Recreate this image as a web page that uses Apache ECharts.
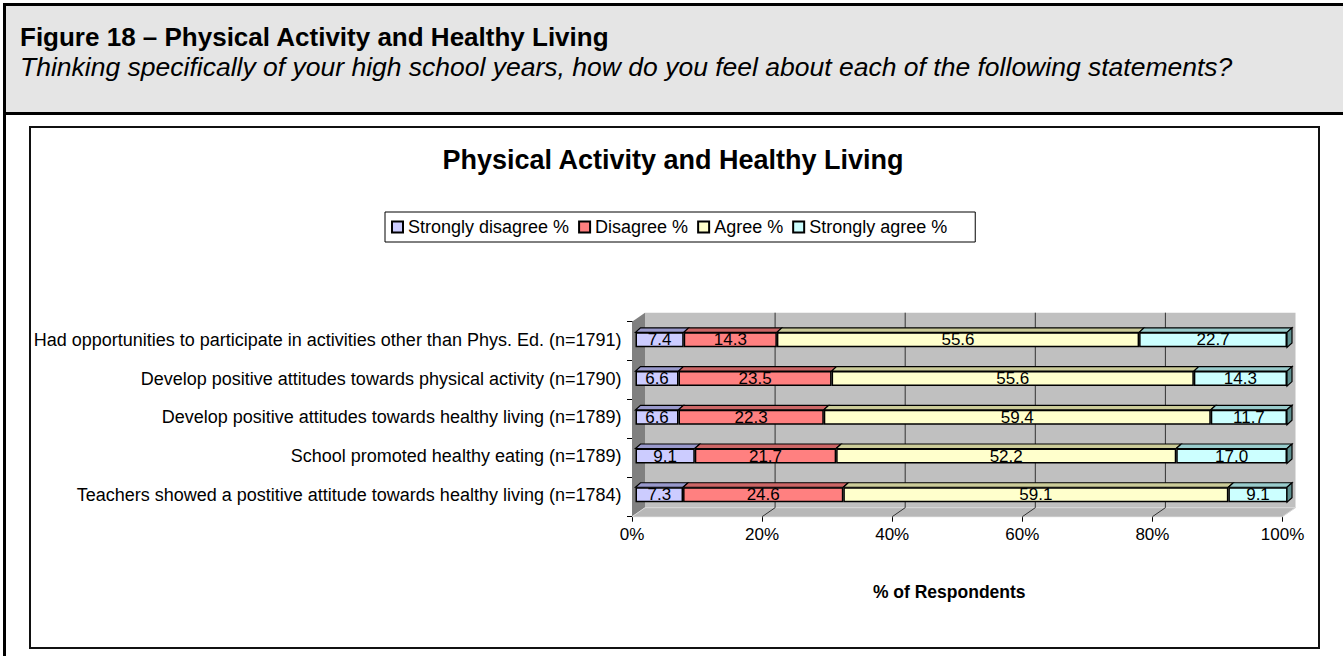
<!DOCTYPE html>
<html>
<head>
<meta charset="utf-8">
<title>Physical Activity and Healthy Living</title>
<script src="https://cdn.jsdelivr.net/npm/echarts@6/dist/echarts.min.js"></script>
<style>
  html, body { margin: 0; padding: 0; background: #fff; }
  body { width: 1343px; height: 656px; overflow: hidden; position: relative; font-family: "Liberation Sans", Arial, sans-serif; }
  #outer { position: absolute; left: 3px; top: 3px; width: 1400px; height: 700px; border-left: 3px solid #000; border-top: 3px solid #000; }
  #header { position: absolute; left: 6px; top: 6px; width: 1400px; height: 106px; background: #e5e5e5; border-bottom: 3px solid #000; }
  .htxt { position: absolute; left: 20px; color: #000; white-space: nowrap; line-height: normal; }
  #figTitle { top: 22px; font-size: 26px; font-weight: bold; }
  #figSub { top: 52px; font-size: 26.5px; font-style: italic; }
  #frame { position: absolute; left: 29px; top: 126px; width: 1287px; height: 519px; border: 2px solid #111; }
  #myChart { position: absolute; left: 0; top: 0; width: 1343px; height: 656px; }
</style>
</head>
<body>
<div id="outer"></div>
<div id="header"></div>
<div class="htxt" id="figTitle">Figure 18 – Physical Activity and Healthy Living</div>
<div class="htxt" id="figSub">Thinking specifically of your high school years, how do you feel about each of the following statements?</div>
<div id="frame"></div>
<div id="myChart"></div>

<script>
// 数据
const categories = [
  'Had opportunities to participate in activities other than Phys. Ed. (n=1791)',
  'Develop positive attitudes towards physical activity (n=1790)',
  'Develop positive attitudes towards healthy living (n=1789)',
  'School promoted healthy eating (n=1789)',
  'Teachers showed a postitive attitude towards healthy living (n=1784)'
]
const seriesNames = ['Strongly disagree %', 'Disagree %', 'Agree %', 'Strongly agree %']
const stronglyDisagree = [7.4, 6.6, 6.6, 9.1, 7.3]
const disagree = [14.3, 23.5, 22.3, 21.7, 24.6]
const agree = [55.6, 55.6, 59.4, 52.2, 59.1]
const stronglyAgree = [22.7, 14.3, 11.7, 17.0, 9.1]
const xTicks = [0, 20, 40, 60, 80, 100]

// 颜色
const faceColors = ['#ccccff', '#ff8080', '#ffffcc', '#ccffff']
const topColors = ['#9999cc', '#cc6666', '#cccc99', '#99cccc']
const sideColors = ['#666699', '#993333', '#999966', '#5f9090']
const font = '"Liberation Sans", Arial, sans-serif'

// 3D 偏移
const WALL = [13, -9]
const BAR = [5, -4.5]
const barH = 15

const allValues = [stronglyDisagree, disagree, agree, stronglyAgree]

// 堆叠起止
const segments = []
categories.forEach((c, i) => {
  let start = 0
  allValues.forEach((arr, s) => {
    segments.push([start, start + arr[i], i, s])
    start += arr[i]
  })
})

const chart = echarts.init(document.getElementById('myChart'), null, { renderer: 'svg' })

// 背景墙 / 地板
const renderWalls = (params, api) => {
  const cs = params.coordSys
  const x0 = cs.x, y0 = cs.y, w = cs.width, h = cs.height
  const v = api.value(0)
  const children = []
  if (params.dataIndex === 0) {
    children.push({
      type: 'rect',
      shape: { x: x0 + WALL[0], y: y0 + WALL[1], width: w, height: h },
      style: { fill: '#c0c0c0' }
    })
    children.push({
      type: 'polygon',
      shape: { points: [[x0, y0], [x0 + WALL[0], y0 + WALL[1]], [x0 + WALL[0], y0 + h + WALL[1]], [x0, y0 + h]] },
      style: { fill: '#808080' }
    })
    children.push({
      type: 'polygon',
      shape: { points: [[x0, y0 + h], [x0 + w, y0 + h], [x0 + w + WALL[0], y0 + h + WALL[1]], [x0 + WALL[0], y0 + h + WALL[1]]] },
      style: { fill: '#b8b8b8', stroke: '#d8d8d8', lineWidth: 1 }
    })
  }
  if (v > 0 && v < 100) {
    const px = api.coord([v, 0])[0]
    children.push({
      type: 'line',
      shape: { x1: px + WALL[0], y1: y0 + WALL[1], x2: px + WALL[0], y2: y0 + h + WALL[1] },
      style: { stroke: '#333', lineWidth: 1 }
    })
    children.push({
      type: 'line',
      shape: { x1: px, y1: y0 + h, x2: px + WALL[0], y2: y0 + h + WALL[1] },
      style: { stroke: '#333', lineWidth: 1 }
    })
  }
  return { type: 'group', children }
}

// 柱子顶面 / 侧面
const renderBarTops = (params, api) => {
  const start = api.value(0)
  const end = Math.min(api.value(1), 100)
  const cat = api.value(2)
  const s = api.value(3)
  const p0 = api.coord([start, cat])
  const p1 = api.coord([end, cat])
  const yTop = p0[1] - barH / 2
  const yBot = p0[1] + barH / 2
  const children = [{
    type: 'polygon',
    shape: { points: [[p0[0], yTop], [p1[0], yTop], [p1[0] + BAR[0], yTop + BAR[1]], [p0[0] + BAR[0], yTop + BAR[1]]] },
    style: { fill: topColors[s], stroke: '#000', lineWidth: 1.2 }
  }]
  if (s === allValues.length - 1) {
    children.push({
      type: 'polygon',
      shape: { points: [[p1[0], yTop], [p1[0] + BAR[0], yTop + BAR[1]], [p1[0] + BAR[0], yBot + BAR[1]], [p1[0], yBot]] },
      style: { fill: sideColors[s], stroke: '#000', lineWidth: 1.2 }
    })
  }
  return { type: 'group', children }
}

const barSeries = allValues.map((arr, s) => ({
  name: seriesNames[s],
  type: 'bar',
  stack: 'total',
  xAxisIndex: 1,
  yAxisIndex: 1,
  barWidth: barH,
  z: 3,
  itemStyle: { color: faceColors[s], borderColor: '#000', borderWidth: 1.5 },
  label: {
    show: true,
    position: 'inside',
    color: '#000',
    fontSize: 17,
    fontFamily: font,
    formatter: p => p.value.toFixed(1)
  },
  emphasis: { disabled: true },
  data: arr
}))

const option = {
  animation: false,
  title: {
    text: 'Physical Activity and Healthy Living',
    left: 673,
    textAlign: 'center',
    top: 146,
    padding: 0,
    textStyle: { fontSize: 27, fontWeight: 'bold', color: '#000', fontFamily: font }
  },
  legend: {
    data: seriesNames,
    left: 385,
    top: 212,
    padding: [6, 28, 6, 6],
    itemWidth: 11,
    itemHeight: 11,
    itemGap: 9,
    icon: 'rect',
    borderColor: '#000',
    borderWidth: 1,
    textStyle: { fontSize: 18, color: '#000', fontFamily: font }
  },
  grid: [
    // 正面坐标
    { left: 632, right: 60.5, top: 321.7, bottom: 139.3 },
    // 柱子
    { left: 635.5, right: 56, top: 320.5, bottom: 141.9 }
  ],
  xAxis: [
    {
      type: 'value',
      gridIndex: 0,
      min: 0,
      max: 100,
      interval: 20,
      name: '% of Respondents',
      nameLocation: 'middle',
      nameGap: 66,
      nameTextStyle: { fontSize: 17.5, fontWeight: 'bold', color: '#000', fontFamily: font, padding: [0, 16, 0, 0] },
      axisLine: { show: true, lineStyle: { color: '#000', width: 1 } },
      axisTick: { show: true, length: 5, lineStyle: { color: '#000' } },
      axisLabel: { fontSize: 17, color: '#000', margin: 9, fontFamily: font, formatter: '{value}%' },
      splitLine: { show: false }
    },
    {
      type: 'value',
      gridIndex: 1,
      min: 0,
      max: 100,
      show: false
    }
  ],
  yAxis: [
    {
      type: 'category',
      gridIndex: 0,
      inverse: true,
      data: categories,
      axisLine: { show: true, lineStyle: { color: '#000', width: 1 } },
      axisTick: { show: true, length: 5, lineStyle: { color: '#000' } },
      axisLabel: { show: false },
      splitLine: { show: false }
    },
    {
      type: 'category',
      gridIndex: 1,
      inverse: true,
      data: categories,
      axisLine: { show: false },
      axisTick: { show: false },
      axisLabel: { fontSize: 18, color: '#000', margin: 14, fontFamily: font },
      splitLine: { show: false }
    }
  ],
  series: [
    {
      name: 'walls',
      type: 'custom',
      xAxisIndex: 0,
      yAxisIndex: 0,
      z: 1,
      silent: true,
      clip: false,
      renderItem: renderWalls,
      data: xTicks.map(v => [v])
    },
    ...barSeries,
    {
      name: 'barTops',
      type: 'custom',
      xAxisIndex: 1,
      yAxisIndex: 1,
      z: 4,
      silent: true,
      clip: false,
      renderItem: renderBarTops,
      data: segments
    }
  ]
}

chart.setOption(option)
</script>
</body>
</html>
